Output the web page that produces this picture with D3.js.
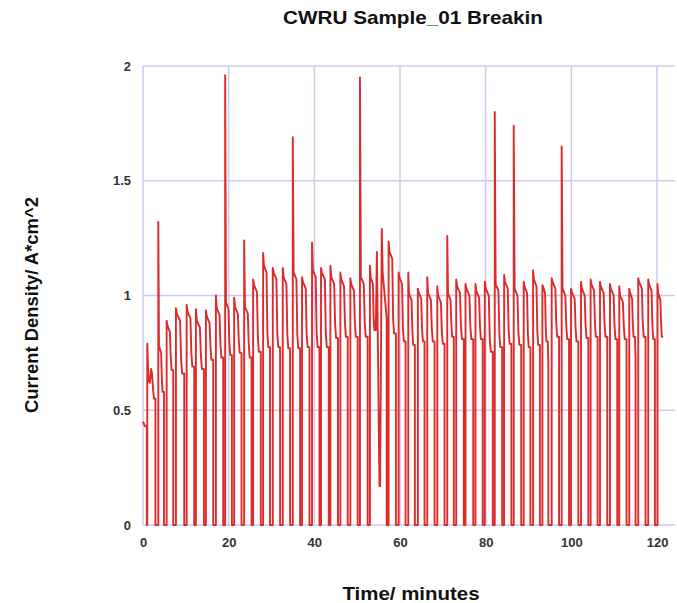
<!DOCTYPE html>
<html><head><meta charset="utf-8">
<script src="https://cdn.jsdelivr.net/npm/d3@7"></script>
<style>body{margin:0;background:#fff}svg{display:block}</style>
</head><body>
<script>
// ---- data ----
const title = "CWRU Sample_01 Breakin";
const xLabel = "Time/ minutes";
const yLabel = "Current Density/ A*cm^2";
const xTicks = [0, 20, 40, 60, 80, 100, 120];
const yTicks = [0, 0.5, 1, 1.5, 2];
const yTickLabels = ["0", "0.5", "1", "1.5", "2"];

// opening segment before the first cycle
const startT = [0, 0.5, 0.9];
const startV = [0.45, 0.43, 0.43];

// first (irregular) cycle
const firstT = [1.0, 1.0, 1.3, 1.6, 1.9, 2.1, 2.4, 2.6, 2.9];
const firstV = [0, 0.79, 0.63, 0.62, 0.68, 0.66, 0.58, 0.55, 0.55];

// regular cycles: switch-on time, first peak, plateau, trough before switch-off, switch-off time
const riseT = [3.57, 5.52, 7.69, 10.19, 12.35, 14.69, 17.02, 19.18, 21.28, 23.61, 25.71, 28.04, 30.3, 32.63, 34.97, 37.13, 39.46, 41.56, 43.75, 46.08, 48.41, 50.65, 52.98, 57.34, 59.67, 61.93, 64.17, 66.36, 68.7, 71.03, 73.12, 75.29, 77.62, 79.79, 82.12, 84.31, 86.55, 88.88, 91.07, 93.24, 95.41, 97.74, 99.93, 102.26, 104.5, 106.69, 109.02, 111.19, 113.52, 115.62, 117.95, 120.12];
const dropT = [4.9, 7.06, 9.63, 11.96, 14.22, 16.39, 18.72, 20.75, 23.0, 25.34, 27.5, 29.65, 32.0, 34.34, 36.67, 38.86, 41.19, 43.36, 45.52, 47.79, 50.12, 52.45, 54.35, 59.04, 61.3, 63.47, 65.73, 68.07, 70.4, 72.56, 74.9, 77.1, 79.3, 81.66, 83.85, 86.0, 88.3, 90.44, 92.66, 94.5, 97.13, 99.46, 101.63, 103.96, 106.13, 108.39, 110.72, 112.89, 114.85, 117.32, 119.51, 121.45];
const peakV = [1.32, 0.89, 0.945, 0.96, 0.94, 0.935, 1.0, 1.96, 0.99, 1.24, 1.07, 1.185, 1.12, 1.12, 1.69, 1.08, 1.23, 1.12, 1.13, 1.10, 1.075, 1.95, 1.13, 1.235, 1.10, 1.10, 1.03, 1.08, 1.04, 1.26, 1.07, 1.05, 1.05, 1.06, 1.80, 1.09, 1.74, 1.06, 1.11, 1.045, 1.075, 1.65, 1.03, 1.06, 1.07, 1.06, 1.05, 1.04, 1.03, 1.075, 1.07, 1.05];
const plateauV = [0.78, 0.87, 0.92, 0.93, 0.89, 0.91, 0.945, 0.97, 0.95, 0.95, 1.045, 1.13, 1.10, 1.08, 1.10, 1.06, 1.11, 1.10, 1.08, 1.07, 1.05, 1.08, 1.08, 1.19, 1.08, 1.01, 1.015, 1.01, 1.00, 1.01, 1.04, 1.03, 1.02, 1.03, 1.05, 1.06, 1.03, 1.04, 1.07, 1.04, 1.06, 1.03, 1.015, 1.03, 1.05, 1.04, 1.03, 1.00, 1.015, 1.06, 1.05, 1.01];
const troughV = [0.58, 0.675, 0.66, 0.69, 0.68, 0.72, 0.73, 0.74, 0.75, 0.73, 0.755, 0.775, 0.775, 0.77, 0.77, 0.775, 0.775, 0.775, 0.815, 0.82, 0.82, 0.82, 0.85, 0.835, 0.80, 0.785, 0.80, 0.80, 0.79, 0.82, 0.81, 0.81, 0.81, 0.755, 0.775, 0.79, 0.785, 0.775, 0.785, 0.80, 0.82, 0.81, 0.80, 0.815, 0.82, 0.82, 0.81, 0.81, 0.82, 0.82, 0.81, 0.82];

// irregular excursions appended to a cycle before it switches off
const extraCycle = [22, 39, 48];
const extraT = [[54.6, 55.2, 55.35, 55.75, 55.95, 56.9], [94.64], [114.99]];
const extraV = [[1.19, 0.17, 0.17, 1.29, 1.10, 0.90], [0.705], [0.72]];

// ---- layout ----
const W = 677, H = 603;
const L = 143, R = 675, T = 66, B = 525;
const svg = d3.select("body").append("svg").attr("width", W).attr("height", H);
const x = d3.scaleLinear().domain([0, 124.2]).range([L, R]);
const y = d3.scaleLinear().domain([0, 2]).range([B, T]);
const font = "'Liberation Sans', Arial, sans-serif";
const gridCol = "#cbcbf2";

// grid
svg.append("g").selectAll("line").data(yTicks).join("line")
  .attr("x1", L).attr("x2", R).attr("y1", d => y(d)).attr("y2", d => y(d))
  .attr("stroke", gridCol).attr("stroke-width", 1.5);
svg.append("g").selectAll("line").data(xTicks).join("line")
  .attr("x1", d => x(d)).attr("x2", d => x(d)).attr("y1", T).attr("y2", B)
  .attr("stroke", gridCol).attr("stroke-width", 1.5);

// axes (labels only, styled like the reference)
const yAxis = d3.axisLeft(y).tickValues(yTicks).tickFormat((d, i) => yTickLabels[i]).tickSize(0).tickPadding(12);
const gy = svg.append("g").attr("transform", `translate(${L},0)`).call(yAxis);
const xAxis = d3.axisBottom(x).tickValues(xTicks).tickFormat(d3.format("d")).tickSize(0).tickPadding(13);
const gx = svg.append("g").attr("transform", `translate(0,${B})`).call(xAxis);
[gx, gy].forEach(g => {
  g.select(".domain").remove();
  g.selectAll("text").attr("font-family", font).attr("font-size", 13)
    .attr("font-weight", "bold").attr("fill", "#333");
});

// build the trace
const pts = [];
startT.forEach((t, i) => pts.push([t, startV[i]]));
pts.push([startT[startT.length - 1], 0]);
firstT.forEach((t, i) => pts.push([t, firstV[i]]));
pts.push([firstT[firstT.length - 1], 0]);
riseT.forEach((tr, i) => {
  const td = dropT[i], d = td - tr;
  pts.push([tr, 0]);
  pts.push([tr, peakV[i]]);
  pts.push([tr + 0.12 * d, plateauV[i]]);
  pts.push([tr + 0.5 * d, plateauV[i] - 0.03]);
  pts.push([tr + 0.62 * d, troughV[i] + 0.06]);
  pts.push([tr + 0.75 * d, troughV[i]]);
  pts.push([td, troughV[i]]);
  let last = td;
  const k = extraCycle.indexOf(i);
  if (k >= 0) {
    extraT[k].forEach((t, j) => pts.push([t, extraV[k][j]]));
    last = extraT[k][extraT[k].length - 1];
  }
  if (i < riseT.length - 1) pts.push([last, 0]);
});

const line = d3.line().x(d => x(d[0])).y(d => y(d[1]));
svg.append("path").datum(pts).attr("d", line)
  .attr("fill", "none").attr("stroke", "#dd2b2b").attr("stroke-width", 1.9)
  .attr("stroke-linejoin", "round");

// titles
svg.append("text").attr("x", 413).attr("y", 24).attr("text-anchor", "middle")
  .attr("font-family", font).attr("font-size", 18.5).attr("font-weight", "bold").attr("fill", "#111")
  .attr("textLength", 260).attr("lengthAdjust", "spacingAndGlyphs").text(title);
svg.append("text").attr("x", 411).attr("y", 600).attr("text-anchor", "middle")
  .attr("font-family", font).attr("font-size", 18.5).attr("font-weight", "bold").attr("fill", "#111")
  .attr("textLength", 137).attr("lengthAdjust", "spacingAndGlyphs").text(xLabel);
svg.append("text").attr("transform", "translate(38,305) rotate(-90)").attr("text-anchor", "middle")
  .attr("font-family", font).attr("font-size", 18).attr("font-weight", "bold").attr("fill", "#111")
  .attr("textLength", 216).attr("lengthAdjust", "spacingAndGlyphs").text(yLabel);
</script>
</body></html>
